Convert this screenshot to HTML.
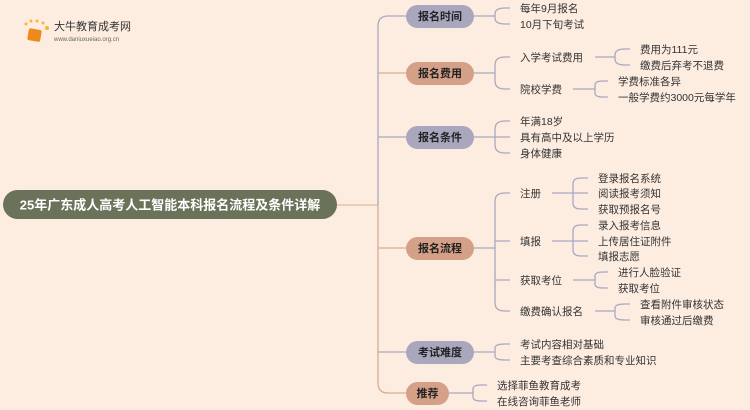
<html><head><style>body{margin:0;background:#FDEDE0}svg text{font-family:"Liberation Sans","Noto Sans CJK SC",sans-serif}</style></head><body>
<svg width="750" height="410" xmlns="http://www.w3.org/2000/svg">
<rect width="750" height="410" fill="#FDEDE0"/>
<g>
<circle cx="26" cy="24" r="1.5" fill="#F6B733"/><circle cx="31" cy="21" r="1.5" fill="#F6B733"/><circle cx="37" cy="21" r="1.5" fill="#F6B733"/><circle cx="43" cy="23" r="1.5" fill="#F6B733"/><circle cx="47" cy="28" r="2" fill="#F6B733"/>
<rect x="28" y="29" width="13" height="12" rx="2" fill="#EE8A1C" transform="rotate(10 34 35)"/>
<text x="54" y="30" font-size="11" fill="#333">大牛教育成考网</text>
<text x="54" y="41" font-size="6" fill="#666">www.daniuxueiao.org.cn</text>
</g>
<g fill="none" stroke-width="1.3">
<path d="M337 205 H378" stroke="#E3B9A2"/>
<path d="M378 205 V26 Q378 16 388 16 H406" stroke="#AAA8C2"/>
<path d="M378 205 V383 Q378 393 388 393 H406" stroke="#DDAA90"/>
<path d="M378 73 H406 M378 248 H406" stroke="#DDAA90"/>
<path d="M378 137 H406 M378 352 H406" stroke="#AAA8C2"/>
<g stroke="#AAA8C2">
<path d="M474 16 H495 M505 8 Q495 8 495 14 V18 Q495 24 505 24 H510 M505 8 H510"/>
<path d="M474 73 H495 M510 57 H505 Q495 57 495 65 V81 Q495 89 505 89 H510"/>
<path d="M595 57 H615 M630 49 H625 Q615 49 615 55 V59 Q615 65 625 65 H630"/>
<path d="M573 89 H595 M608 81 H603 Q595 81 595 85 V93 Q595 97 603 97 H608"/>
<path d="M474 137 H495 M510 121 H505 Q495 121 495 129 V145 Q495 153 505 153 H510 M495 137 H510"/>
<path d="M474 248 H495 M510 193 H505 Q495 193 495 201 V303 Q495 311 505 311 H510 M495 241 H510 M495 280 H510"/>
<path d="M552 193 H573 M588 178 H581 Q573 178 573 184 V203 Q573 209 581 209 H588 M573 193 H588"/>
<path d="M552 241 H573 M588 225 H581 Q573 225 573 231 V250 Q573 256 581 256 H588 M573 241 H588"/>
<path d="M573 280 H595 M608 272 H603 Q595 272 595 276 V284 Q595 288 603 288 H608"/>
<path d="M595 311 H615 M630 304 H625 Q615 304 615 308 V316 Q615 320 625 320 H630"/>
<path d="M474 352 H495 M510 344 H505 Q495 344 495 348 V356 Q495 360 505 360 H510"/>
<path d="M449 393 H473 M487 385 H481 Q473 385 473 389 V397 Q473 401 481 401 H487"/>
</g></g>
<rect x="3" y="190" width="334" height="29" rx="14.5" fill="#6A7259"/>
<text x="170" y="209.5" font-size="13" font-weight="bold" fill="#fff" text-anchor="middle">25年广东成人高考人工智能本科报名流程及条件详解</text>
<g font-size="11" font-weight="bold" fill="#222" text-anchor="middle">
<rect x="406" y="5" width="68" height="23" rx="11.5" fill="#A9A7BE"/><text x="440" y="20">报名时间</text>
<rect x="406" y="62" width="68" height="23" rx="11.5" fill="#D5A088"/><text x="440" y="77">报名费用</text>
<rect x="406" y="126" width="68" height="23" rx="11.5" fill="#A9A7BE"/><text x="440" y="141">报名条件</text>
<rect x="406" y="237" width="68" height="23" rx="11.5" fill="#D5A088"/><text x="440" y="252">报名流程</text>
<rect x="406" y="341" width="68" height="23" rx="11.5" fill="#A9A7BE"/><text x="440" y="356">考试难度</text>
<rect x="406" y="382" width="43" height="23" rx="11.5" fill="#D5A088"/><text x="427.5" y="397">推荐</text>
</g>
<g font-size="10.5" fill="#333">
<text x="520" y="12">每年9月报名</text><text x="520" y="28">10月下旬考试</text>
<text x="520" y="61">入学考试费用</text><text x="520" y="93">院校学费</text>
<text x="640" y="53">费用为111元</text><text x="640" y="69">缴费后弃考不退费</text>
<text x="618" y="85">学费标准各异</text><text x="618" y="101">一般学费约3000元每学年</text>
<text x="520" y="125">年满18岁</text><text x="520" y="141">具有高中及以上学历</text><text x="520" y="157">身体健康</text>
<text x="520" y="197">注册</text><text x="520" y="245">填报</text><text x="520" y="284">获取考位</text><text x="520" y="315">缴费确认报名</text>
<text x="598" y="182">登录报名系统</text><text x="598" y="197">阅读报考须知</text><text x="598" y="213">获取预报名号</text>
<text x="598" y="229">录入报考信息</text><text x="598" y="245">上传居住证附件</text><text x="598" y="260">填报志愿</text>
<text x="618" y="276">进行人脸验证</text><text x="618" y="292">获取考位</text>
<text x="640" y="308">查看附件审核状态</text><text x="640" y="324">审核通过后缴费</text>
<text x="520" y="348">考试内容相对基础</text><text x="520" y="364">主要考查综合素质和专业知识</text>
<text x="497" y="389">选择菲鱼教育成考</text><text x="497" y="405">在线咨询菲鱼老师</text>
</g>
</svg></body></html>
